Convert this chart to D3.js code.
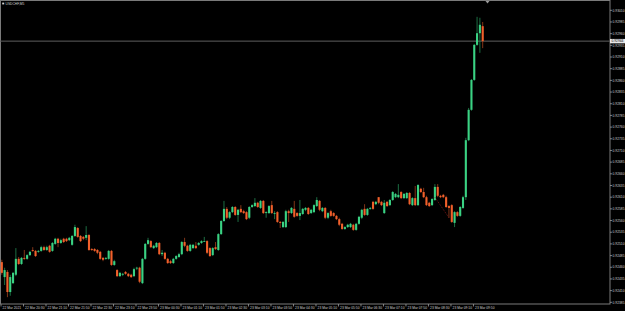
<!DOCTYPE html>
<html>
<head>
<meta charset="utf-8">
<script src="https://cdn.jsdelivr.net/npm/d3@7"></script>
<style>
body { margin: 0; background: #000; }
svg { display: block; }
text { font-family: "Liberation Sans", Arial, sans-serif; }
</style>
</head>
<body>
<div id="chart"></div>
<script>
// USDCHF,M5 - 172 bars
var opens = [
0.92471,0.92439,0.92450,0.92407,0.92426,0.92444,0.92478,0.92467,0.92480,0.92478,
0.92486,0.92497,0.92495,0.92493,0.92495,0.92503,0.92497,0.92506,0.92495,0.92510,
0.92521,0.92512,0.92521,0.92521,0.92518,0.92508,0.92527,0.92544,0.92527,0.92525,
0.92523,0.92529,0.92499,0.92499,0.92497,0.92493,0.92480,0.92478,0.92478,0.92495,
0.92465,0.92454,0.92441,0.92444,0.92450,0.92446,0.92444,0.92441,0.92459,0.92459,
0.92426,0.92478,0.92510,0.92516,0.92501,0.92503,0.92512,0.92488,0.92491,0.92478,
0.92473,0.92469,0.92478,0.92482,0.92488,0.92514,0.92506,0.92495,0.92501,0.92506,
0.92508,0.92512,0.92516,0.92516,0.92501,0.92486,0.92503,0.92497,0.92531,0.92559,
0.92585,0.92566,0.92578,0.92589,0.92572,0.92585,0.92580,0.92578,0.92566,0.92589,
0.92591,0.92598,0.92587,0.92602,0.92576,0.92576,0.92593,0.92576,0.92578,0.92557,
0.92546,0.92546,0.92580,0.92576,0.92585,0.92576,0.92570,0.92574,0.92583,0.92587,
0.92576,0.92578,0.92591,0.92602,0.92580,0.92587,0.92566,0.92580,0.92576,0.92570,
0.92563,0.92553,0.92542,0.92546,0.92546,0.92551,0.92540,0.92553,0.92566,0.92585,
0.92572,0.92585,0.92600,0.92595,0.92610,0.92600,0.92576,0.92600,0.92593,0.92604,
0.92610,0.92610,0.92621,0.92608,0.92608,0.92619,0.92593,0.92608,0.92593,0.92628,
0.92621,0.92610,0.92598,0.92593,0.92604,0.92632,0.92613,0.92615,0.92610,0.92591,
0.92593,0.92555,0.92578,0.92570,0.92587,0.92610,0.92732,0.92797,0.92861,0.92936,0.92961,0.92976];

var closes = [
0.92448,0.92454,0.92407,0.92439,0.92448,0.92478,0.92467,0.92480,0.92478,0.92486,
0.92493,0.92495,0.92484,0.92495,0.92503,0.92497,0.92503,0.92493,0.92512,0.92521,
0.92512,0.92518,0.92514,0.92516,0.92523,0.92527,0.92546,0.92525,0.92516,0.92521,
0.92529,0.92497,0.92497,0.92495,0.92491,0.92478,0.92476,0.92480,0.92495,0.92465,
0.92473,0.92441,0.92448,0.92446,0.92446,0.92441,0.92439,0.92456,0.92459,0.92429,
0.92478,0.92510,0.92518,0.92503,0.92506,0.92512,0.92488,0.92491,0.92478,0.92469,
0.92469,0.92478,0.92484,0.92488,0.92514,0.92506,0.92495,0.92508,0.92508,0.92501,
0.92512,0.92516,0.92516,0.92491,0.92484,0.92501,0.92499,0.92531,0.92559,0.92585,
0.92566,0.92578,0.92589,0.92572,0.92583,0.92578,0.92576,0.92563,0.92589,0.92593,
0.92598,0.92589,0.92602,0.92576,0.92578,0.92591,0.92576,0.92576,0.92557,0.92555,
0.92557,0.92580,0.92576,0.92587,0.92568,0.92570,0.92576,0.92585,0.92587,0.92574,
0.92583,0.92593,0.92604,0.92583,0.92587,0.92566,0.92576,0.92570,0.92570,0.92563,
0.92551,0.92542,0.92546,0.92551,0.92553,0.92540,0.92553,0.92568,0.92583,0.92572,
0.92585,0.92587,0.92585,0.92600,0.92598,0.92593,0.92598,0.92591,0.92604,0.92621,
0.92617,0.92615,0.92608,0.92617,0.92619,0.92595,0.92608,0.92593,0.92636,0.92621,
0.92610,0.92593,0.92591,0.92606,0.92632,0.92613,0.92610,0.92610,0.92589,0.92587,
0.92557,0.92578,0.92570,0.92589,0.92610,0.92732,0.92797,0.92861,0.92936,0.92961,0.92979,0.92944];

var highs = [
0.92476,0.92459,0.92454,0.92444,0.92450,0.92501,0.92482,0.92482,0.92497,0.92488,
0.92495,0.92503,0.92497,0.92497,0.92506,0.92506,0.92506,0.92508,0.92514,0.92523,
0.92523,0.92521,0.92523,0.92523,0.92525,0.92529,0.92551,0.92546,0.92529,0.92527,
0.92548,0.92531,0.92501,0.92501,0.92499,0.92495,0.92482,0.92482,0.92497,0.92497,
0.92476,0.92456,0.92450,0.92448,0.92452,0.92448,0.92446,0.92459,0.92461,0.92461,
0.92480,0.92512,0.92523,0.92518,0.92508,0.92514,0.92514,0.92497,0.92493,0.92480,
0.92476,0.92480,0.92486,0.92491,0.92516,0.92523,0.92508,0.92510,0.92510,0.92514,
0.92514,0.92518,0.92525,0.92518,0.92503,0.92503,0.92514,0.92533,0.92561,0.92602,
0.92589,0.92580,0.92591,0.92591,0.92585,0.92593,0.92583,0.92580,0.92591,0.92595,
0.92608,0.92600,0.92604,0.92604,0.92580,0.92593,0.92602,0.92580,0.92580,0.92559,
0.92559,0.92583,0.92583,0.92589,0.92602,0.92578,0.92604,0.92587,0.92589,0.92589,
0.92585,0.92595,0.92610,0.92604,0.92589,0.92589,0.92578,0.92583,0.92578,0.92572,
0.92566,0.92555,0.92548,0.92553,0.92555,0.92553,0.92555,0.92570,0.92585,0.92595,
0.92587,0.92589,0.92602,0.92602,0.92610,0.92602,0.92604,0.92602,0.92606,0.92623,
0.92619,0.92638,0.92623,0.92619,0.92621,0.92621,0.92610,0.92634,0.92638,0.92630,
0.92630,0.92613,0.92600,0.92608,0.92638,0.92638,0.92615,0.92617,0.92613,0.92593,
0.92595,0.92580,0.92580,0.92591,0.92613,0.92737,0.92801,0.92863,0.92938,0.92996,0.92994,0.92985];

var lows = [
0.92444,0.92422,0.92396,0.92399,0.92424,0.92441,0.92465,0.92465,0.92476,0.92476,
0.92484,0.92493,0.92482,0.92491,0.92493,0.92495,0.92495,0.92491,0.92493,0.92508,
0.92503,0.92510,0.92512,0.92514,0.92516,0.92506,0.92525,0.92523,0.92514,0.92518,
0.92518,0.92495,0.92495,0.92493,0.92488,0.92476,0.92473,0.92476,0.92476,0.92463,
0.92463,0.92439,0.92439,0.92441,0.92444,0.92439,0.92437,0.92439,0.92454,0.92426,
0.92424,0.92476,0.92508,0.92501,0.92499,0.92501,0.92486,0.92484,0.92476,0.92467,
0.92467,0.92467,0.92476,0.92480,0.92486,0.92503,0.92493,0.92493,0.92499,0.92499,
0.92506,0.92510,0.92514,0.92488,0.92482,0.92484,0.92497,0.92495,0.92529,0.92557,
0.92563,0.92563,0.92576,0.92570,0.92557,0.92576,0.92574,0.92561,0.92563,0.92587,
0.92589,0.92587,0.92585,0.92574,0.92566,0.92574,0.92574,0.92563,0.92555,0.92544,
0.92544,0.92544,0.92557,0.92574,0.92566,0.92568,0.92561,0.92572,0.92580,0.92572,
0.92574,0.92576,0.92589,0.92580,0.92578,0.92563,0.92563,0.92568,0.92568,0.92561,
0.92548,0.92540,0.92540,0.92544,0.92544,0.92538,0.92538,0.92551,0.92563,0.92570,
0.92570,0.92583,0.92583,0.92593,0.92595,0.92591,0.92574,0.92589,0.92591,0.92602,
0.92608,0.92608,0.92606,0.92606,0.92606,0.92593,0.92591,0.92591,0.92591,0.92619,
0.92608,0.92591,0.92589,0.92591,0.92602,0.92610,0.92608,0.92608,0.92587,0.92566,
0.92555,0.92546,0.92568,0.92568,0.92585,0.92604,0.92730,0.92795,0.92859,0.92934,0.92919,0.92929];

var priceTicks = [0.93010,0.92985,0.92960,0.92935,0.92910,0.92885,0.92860,0.92835,0.92810,
  0.92785,0.92760,0.92735,0.92710,0.92685,0.92660,0.92635,0.92610,0.92585,0.92560,
  0.92535,0.92510,0.92485,0.92460,0.92435,0.92410,0.92385];

var timeLabels = ["22 Mar 2021","22 Mar 20:30","22 Mar 21:10","22 Mar 21:50","22 Mar 22:30",
  "22 Mar 23:10","22 Mar 23:50","23 Mar 00:30","23 Mar 01:10","23 Mar 01:50","23 Mar 02:30",
  "23 Mar 03:10","23 Mar 03:50","23 Mar 04:30","23 Mar 05:10","23 Mar 05:50","23 Mar 06:30",
  "23 Mar 07:10","23 Mar 07:50","23 Mar 08:30","23 Mar 09:10","23 Mar 09:50"];
var barsPerLabel = 8;

// dotted trend line drawn on the chart (bar index, price)
var trendLine = [{bar: 154, price: 0.92610}, {bar: 159, price: 0.92566}];

var symbol = "USDCHF,M5";

var w = 625, h = 311;
var right = 610, bottom = 304;
var fs = 3.3;

var svg = d3.select("#chart").append("svg")
  .attr("width", w).attr("height", h)
  .style("background-color", "#000");

var bars = opens.map((o, i) => ({i: i, o: o, c: closes[i], hi: highs[i], lo: lows[i]}));

var x = d3.scaleLinear().domain([0, bars.length - 1]).range([1.8, 482.7]);
var y = d3.scaleLinear().domain([0.92385, 0.93010]).range([302.3, 10.3]);

var bull = "#3ad283", bear = "#f2602b";

// frame
svg.append("rect").attr("x", 0.5).attr("y", 0.5)
  .attr("width", right - 0.5).attr("height", bottom - 0.5)
  .attr("fill", "none").attr("stroke", "#7a7a7a").attr("stroke-width", 1);

// price axis
var yAxis = svg.append("g");
yAxis.selectAll("line").data(priceTicks).enter().append("line")
  .attr("x1", right).attr("x2", right + 2)
  .attr("y1", d => y(d)).attr("y2", d => y(d))
  .attr("stroke", "#9a9a9a").attr("stroke-width", 0.8);
yAxis.selectAll("text").data(priceTicks).enter().append("text")
  .attr("x", right + 2.6).attr("y", d => y(d) + 1.2)
  .attr("font-size", fs).attr("fill", "#cfcfcf")
  .text(d => d.toFixed(5));

// time axis
var xAxis = svg.append("g");
xAxis.selectAll("line").data(timeLabels).enter().append("line")
  .attr("x1", (d, k) => x(k * barsPerLabel) - 0.8).attr("x2", (d, k) => x(k * barsPerLabel) - 0.8)
  .attr("y1", bottom).attr("y2", bottom + 2.5)
  .attr("stroke", "#9a9a9a").attr("stroke-width", 0.8);
xAxis.selectAll("text").data(timeLabels).enter().append("text")
  .attr("x", (d, k) => x(k * barsPerLabel) + 0.8).attr("y", bottom + 5)
  .attr("font-size", fs).attr("fill", "#cfcfcf")
  .text(d => d);

// current price line
var last = closes[closes.length - 1];
svg.append("line")
  .attr("x1", 0).attr("x2", right)
  .attr("y1", y(last)).attr("y2", y(last))
  .attr("stroke", "#5e5e5e").attr("stroke-width", 1);
svg.append("rect")
  .attr("x", right).attr("y", y(last) - 2.2)
  .attr("width", 15).attr("height", 4.4)
  .attr("fill", "#e8e8e8");
svg.append("text")
  .attr("x", right + 1.5).attr("y", y(last) + 1.2)
  .attr("font-size", fs).attr("fill", "#000")
  .text(last.toFixed(5));

// candles
var candles = svg.append("g").selectAll("g").data(bars).enter().append("g");
candles.append("line")
  .attr("x1", d => x(d.i)).attr("x2", d => x(d.i))
  .attr("y1", d => y(d.hi)).attr("y2", d => y(d.lo))
  .attr("stroke", d => d.c >= d.o ? "#1f7a4b" : "#8e3a1b")
  .attr("stroke-width", 0.9);
candles.append("rect")
  .attr("x", d => x(d.i) - 1.05)
  .attr("y", d => y(Math.max(d.o, d.c)))
  .attr("width", 2.1)
  .attr("height", d => Math.max(0.8, Math.abs(y(d.o) - y(d.c))))
  .attr("fill", d => d.c >= d.o ? bull : bear);

// trend line object
svg.append("line")
  .attr("x1", x(trendLine[0].bar)).attr("y1", y(trendLine[0].price))
  .attr("x2", x(trendLine[1].bar)).attr("y2", y(trendLine[1].price))
  .attr("stroke", "#8a1a1a").attr("stroke-width", 0.8)
  .attr("stroke-dasharray", "1,1");

// chart shift marker
svg.append("path")
  .attr("d", "M485.5,1 L489.5,1 L487.5,3.5 Z")
  .attr("fill", "#9a9a9a");

// title
svg.append("rect").attr("x", 2.2).attr("y", 2.6).attr("width", 2).attr("height", 1.8).attr("fill", "#cfcfcf");
svg.append("text")
  .attr("x", 5.5).attr("y", 5)
  .attr("font-size", fs).attr("fill", "#cfcfcf")
  .text(symbol);
</script>
</body>
</html>
